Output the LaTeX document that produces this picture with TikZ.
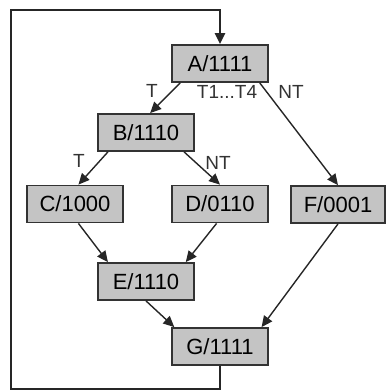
\documentclass[tikz,border=0pt]{standalone}
\usepackage{fontspec}
\setmainfont{Liberation Sans}
\usetikzlibrary{arrows.meta}

\begin{document}
\begin{tikzpicture}[x=1pt, y=-1pt,
    block/.style={draw=black!80, fill=black!23, line width=1.8pt,
        minimum width=96pt, minimum height=37pt, inner sep=0pt,
        font=\fontsize{22}{22}\selectfont},
    edgelab/.style={inner sep=0pt, text=black!80,
        font=\fontsize{19}{19}\selectfont},
    flow/.style={line width=1.4pt, draw=black!85,
        -{Triangle[length=11pt,width=10pt]}}
]
    \useasboundingbox (0,0) rectangle (386,392);

    \node[block] (A) at (220,63.5) {A/1111};
    \node[block] (B) at (146,132.5) {B/1110};
    \node[block] (C) at (75,204) {C/1000};
    \node[block] (D) at (220,204) {D/0110};
    \node[block, minimum width=94pt] (F) at (338,204.5) {F/0001};
    \node[block] (E) at (146,281.5) {E/1110};
    \node[block] (G) at (220,346.5) {G/1111};

    \coordinate (loopbr) at (220,389);
    \coordinate (loopbl) at (11,389);
    \coordinate (looptl) at (11,10);
    \coordinate (looptr) at (220,10);

    \draw[flow] (A.-154) -- (B.78);
    \draw[flow] (A.-26) -- (F.north);
    \draw[flow] (B.-153) -- (C.80);
    \draw[flow] (B.-27) -- (D.north);
    \draw[flow] (C.-80) -- (E.153);
    \draw[flow] (D.-100) -- (E.26);
    \draw[flow] (E.south) -- (G.157);
    \draw[flow] (F.south) -- (G.25);

    % back edge
    \draw[flow, line width=2.2pt] (G.south) -- (loopbr) -- (loopbl)
        -- (looptl) -- (looptr) -- (A.north);

    \node[edgelab] (labAB) at (152,91) {T};
    \node[edgelab] (labA) at (227,92) {T1...T4};
    \node[edgelab] (labAF) at (291,92) {NT};
    \node[edgelab] (labBC) at (79,161) {T};
    \node[edgelab] (labBD) at (218,163) {NT};
\end{tikzpicture}
\end{document}
